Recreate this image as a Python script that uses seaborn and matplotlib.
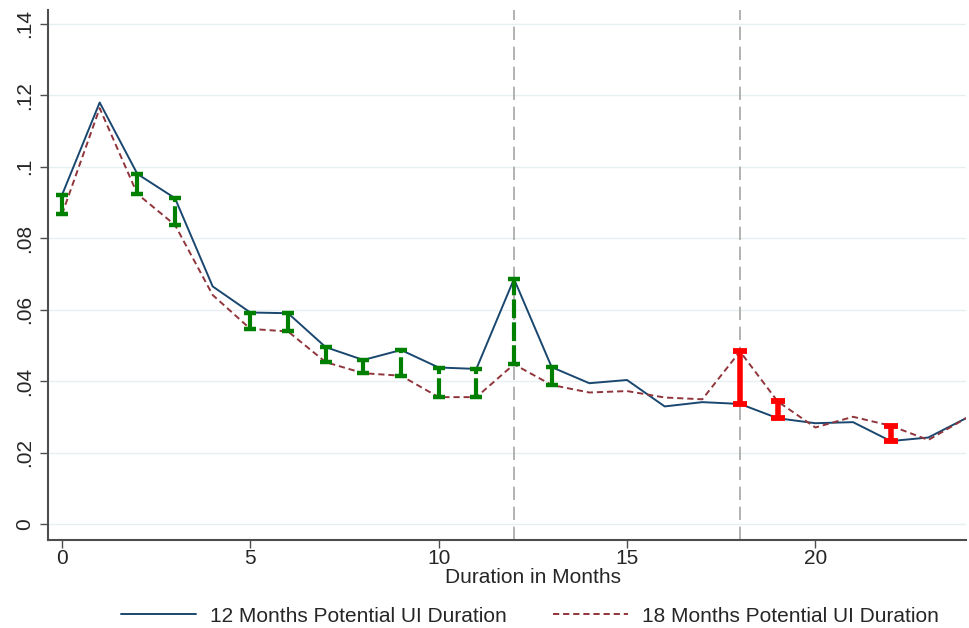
import matplotlib
matplotlib.use("Agg")
import matplotlib.pyplot as plt
import seaborn as sns
import pandas as pd

# Monthly exit hazard by potential UI duration
months = list(range(25))
hazard_12m = [0.0921, 0.1180, 0.0980, 0.0912, 0.0665, 0.0592, 0.0590, 0.0495,
              0.0459, 0.0487, 0.0438, 0.0434, 0.0686, 0.0439, 0.0394, 0.0403,
              0.0329, 0.0341, 0.0336, 0.0296, 0.0282, 0.0285, 0.0232, 0.0242,
              0.0296]
hazard_18m = [0.0867, 0.1164, 0.0924, 0.0837, 0.0641, 0.0546, 0.0539, 0.0453,
              0.0422, 0.0415, 0.0355, 0.0355, 0.0447, 0.0389, 0.0368, 0.0372,
              0.0354, 0.0349, 0.0483, 0.0343, 0.0270, 0.0300, 0.0275, 0.0235,
              0.0296]
# months where the gap between the two groups is significant
green_months = [0, 2, 3, 5, 6, 7, 8, 9, 10, 11, 12, 13]
red_months = [18, 19, 22]
exhaustion_months = [12, 18]

y_ticks = [0, 0.02, 0.04, 0.06, 0.08, 0.10, 0.12, 0.14]
y_tick_labels = ["0", ".02", ".04", ".06", ".08", ".1", ".12", ".14"]
x_ticks = [0, 5, 10, 15, 20]
label_12 = "12 Months Potential UI Duration"
label_18 = "18 Months Potential UI Duration"

df = pd.DataFrame({"month": months, "h12": hazard_12m, "h18": hazard_18m})

sns.set_style("ticks")
plt.rcParams["font.family"] = ["Liberation Sans", "DejaVu Sans"]

fig = plt.figure(figsize=(9.69, 6.28), dpi=100)
ax = fig.add_axes([48 / 969, 88 / 628, (966 - 48) / 969, (540 - 10) / 628])

navy = "#1a476f"
maroon = "#90353b"
green = "#008000"
red = "#ff0000"

# horizontal grid
for yt in y_ticks:
    ax.axhline(yt, color="#e8eff1", lw=1.0, zorder=0)

# vertical reference lines at benefit exhaustion
for m in exhaustion_months:
    ax.axvline(m, color="#a6a6a6", lw=1.2, linestyle=(0, (8, 4)), zorder=1)

sns.lineplot(data=df, x="month", y="h12", color=navy, lw=1.4, ax=ax,
             zorder=3, label=label_12)
sns.lineplot(data=df, x="month", y="h18", color=maroon, lw=1.4, ax=ax,
             zorder=3, linestyle=(0, (3.2, 2.0)), label=label_18)

# significance bars between the two series
for m in green_months:
    lo = min(hazard_12m[m], hazard_18m[m])
    hi = max(hazard_12m[m], hazard_18m[m])
    ax.vlines(m, lo, hi, color=green, lw=3.0, linestyles=[(0, (4.5, 1.0))],
              zorder=4)
    ax.plot([m, m], [lo, hi], ls="none", marker="_", ms=8.5, mew=3.2,
            color=green, zorder=4)
for m in red_months:
    lo = min(hazard_12m[m], hazard_18m[m])
    hi = max(hazard_12m[m], hazard_18m[m])
    ax.vlines(m, lo, hi, color=red, lw=4.0, zorder=4)
    ax.plot([m, m], [lo, hi], ls="none", marker="_", ms=10.5, mew=4.2,
            color=red, zorder=4)

ax.set_xlim(-0.372, 24.0)
ax.set_ylim(-0.0045, 0.1439)
ax.set_yticks(y_ticks)
ax.set_yticklabels(y_tick_labels, rotation=90, va="center", fontsize=15)
ax.set_xticks(x_ticks)
ax.set_xticklabels([str(t) for t in x_ticks], fontsize=15)
ax.tick_params(axis="both", length=6, width=1.0, color="#4d4d4d")
ax.tick_params(axis="x", pad=0.5)
ax.tick_params(axis="y", pad=4)

for side in ["top", "right"]:
    ax.spines[side].set_visible(False)
for side in ["left", "bottom"]:
    ax.spines[side].set_color("#4d4d4d")
    ax.spines[side].set_linewidth(1.5)

ax.set_xlabel("Duration in Months", fontsize=15)
ax.xaxis.set_label_coords((533 - 48) / (966 - 48), -0.052)
ax.set_ylabel("")

handles, labels = ax.get_legend_handles_labels()
ax.get_legend().remove()
fig.legend(handles, labels, loc="center", ncol=2, frameon=False, fontsize=15,
           bbox_to_anchor=(530 / 969, 1 - 616 / 628), handlelength=3.6,
           handletextpad=0.7, columnspacing=2.2)

fig.savefig("out.png", dpi=100)
